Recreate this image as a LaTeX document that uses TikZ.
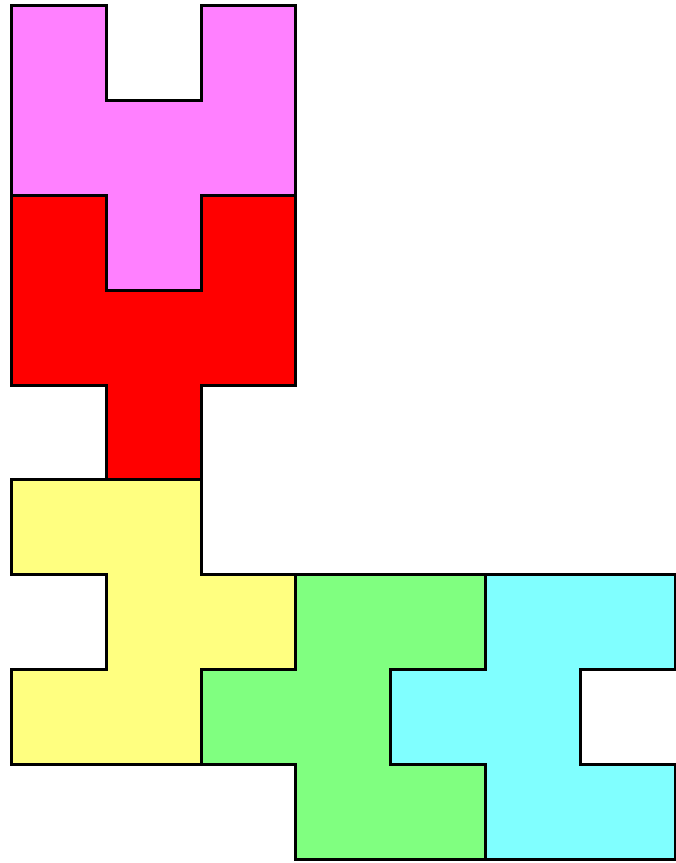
\documentclass[tikz,border=0pt]{standalone}
\usepackage{xcolor}
\usepackage{tikz}
\definecolor{pinkish}{HTML}{FF80FF}
\definecolor{yellowish}{HTML}{FFFF80}
\definecolor{greenish}{HTML}{80FF80}
\definecolor{cyanish}{HTML}{80FFFF}
\begin{document}
\begin{tikzpicture}[piece/.style={draw=black,line width=0.9pt,line join=miter}]
\useasboundingbox(-0.12,-0.04)rectangle(7.0,9.06);
\draw[piece,fill=pinkish](0,9)--(1,9)--(1,8)--(2,8)--(2,9)--(3,9)--(3,7)--(2,7)--(2,6)--(1,6)--(1,7)--(0,7)--cycle;
\draw[piece,fill=red](0,7)--(1,7)--(1,6)--(2,6)--(2,7)--(3,7)--(3,5)--(2,5)--(2,4)--(1,4)--(1,5)--(0,5)--cycle;
\draw[piece,fill=yellowish](0,4)--(2,4)--(2,3)--(3,3)--(3,2)--(2,2)--(2,1)--(0,1)--(0,2)--(1,2)--(1,3)--(0,3)--cycle;
\draw[piece,fill=greenish](3,3)--(5,3)--(5,2)--(4,2)--(4,1)--(5,1)--(5,0)--(3,0)--(3,1)--(2,1)--(2,2)--(3,2)--cycle;
\draw[piece,fill=cyanish](5,3)--(7,3)--(7,2)--(6,2)--(6,1)--(7,1)--(7,0)--(5,0)--(5,1)--(4,1)--(4,2)--(5,2)--cycle;
\end{tikzpicture}
\end{document}
